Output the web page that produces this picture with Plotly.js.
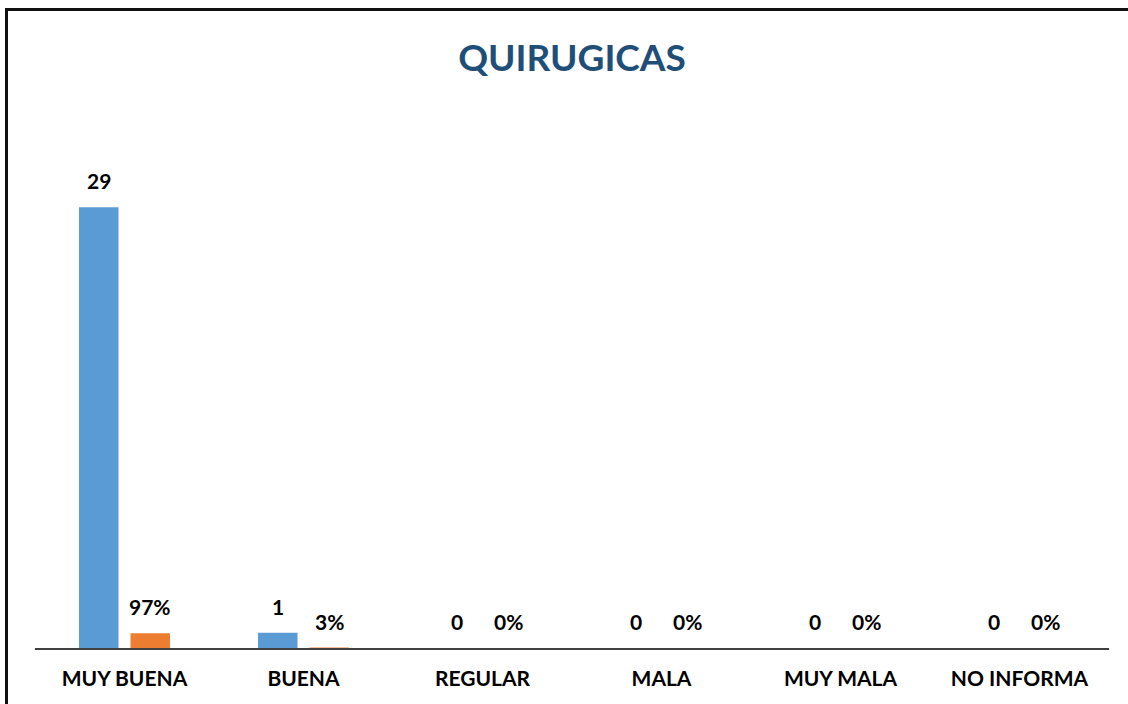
<!DOCTYPE html>
<html>
<head>
<meta charset="utf-8">
<script src="https://cdn.plot.ly/plotly-3.0.1.min.js"></script>
<style>
  html, body { margin: 0; padding: 0; background: #fff; overflow: hidden; }
  #chart { width: 1128px; height: 704px; }
  #frame { position: absolute; left: 5px; top: 8px; width: 1300px; height: 900px;
           border-top: 3px solid #111; border-left: 3px solid #111; pointer-events: none; }
</style>
</head>
<body>
<div id="chart"></div>
<div id="frame"></div>
<script>
const categories = ["MUY BUENA", "BUENA", "REGULAR", "MALA", "MUY MALA", "NO INFORMA"];
const counts = [29, 1, 0, 0, 0, 0];
const shares = [0.97, 0.03, 0, 0, 0, 0];
const titleText = "QUIRUGICAS";

const blue = "#5B9BD5";
const orange = "#ED7D31";

const traces = [
  { type: "bar", name: "Cantidad", x: categories, y: counts,
    marker: { color: blue }, hoverinfo: "x+y" },
  { type: "bar", name: "Porcentaje", x: categories, y: shares,
    marker: { color: orange }, hoverinfo: "x+y" }
];

const labelFont = { family: "Lato, 'Open Sans', sans-serif", size: 21, color: "#000", weight: "bold" };
const annotations = [];
categories.forEach((c, i) => {
  annotations.push({ x: c, y: counts[i], xref: "x", yref: "y", text: String(counts[i]),
    showarrow: false, xshift: -25.75, yanchor: "bottom", yshift: 12, font: labelFont });
  annotations.push({ x: c, y: shares[i], xref: "x", yref: "y", text: Math.round(shares[i] * 100) + "%",
    showarrow: false, xshift: 25.75, yanchor: "bottom", yshift: 12, font: labelFont });
});

const layout = {
  width: 1128, height: 704,
  margin: { l: 35, r: 19, t: 160, b: 56 },
  paper_bgcolor: "#fff", plot_bgcolor: "#fff",
  showlegend: false,
  barmode: "group", bargap: 0.425, bargroupgap: 0.233,
  title: { text: titleText, xref: "paper", x: 0.5, xanchor: "center", y: 0.918, yanchor: "middle",
    font: { family: "Lato, 'Open Sans', sans-serif", size: 37, color: "#1F4E79", weight: "bold" } },
  xaxis: { type: "category", showline: true, linecolor: "#404040", linewidth: 1.5,
    ticks: "", ticklabelstandoff: 11, showgrid: false, zeroline: false,
    tickfont: { family: "Lato, 'Open Sans', sans-serif", size: 21, color: "#000", weight: "bold" } },
  yaxis: { range: [0, 32.1], visible: false, showgrid: false, zeroline: false },
  annotations: annotations
};

Plotly.newPlot("chart", traces, layout, { displayModeBar: false, staticPlot: true });
</script>
</body>
</html>
